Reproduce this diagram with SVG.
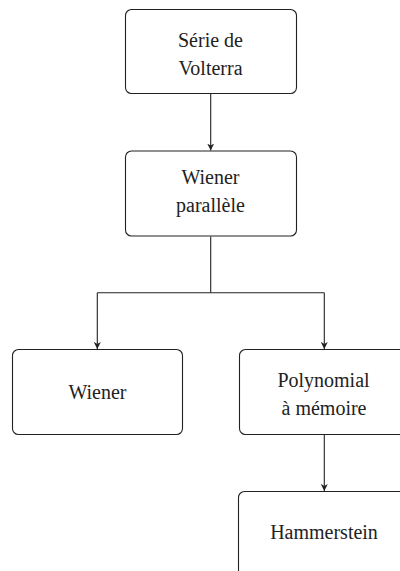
<svg xmlns="http://www.w3.org/2000/svg" width="400" height="571" viewBox="0 0 400 571">
<defs>
<style>
.box{fill:#fff;stroke:#222;stroke-width:1.1}
.lbl{font-family:'Liberation Serif','DejaVu Serif','Times New Roman',Times,serif;font-size:20px;fill:#222;text-anchor:middle}
.con{fill:none;stroke:#222;stroke-width:1.1}
</style>
<marker id="ah" viewBox="0 0 10 10" refX="10" refY="5" markerWidth="7" markerHeight="7" markerUnits="userSpaceOnUse" orient="auto">
<path d="M0,0 L10,5 L0,10 L3,5 Z" fill="#222"/>
</marker>
</defs>
<g id="connectors">
<path class="con" d="M210.7,93.5 V150.5" marker-end="url(#ah)"/>
<path class="con" d="M210.7,236.5 V292.7"/>
<path class="con" d="M97.3,292.7 H324.3"/>
<path class="con" d="M97.3,292.7 V349" marker-end="url(#ah)"/>
<path class="con" d="M324.3,292.7 V349" marker-end="url(#ah)"/>
<path class="con" d="M324.3,434.5 V491" marker-end="url(#ah)"/>
</g>
<g id="volterra">
<rect class="box" x="125.5" y="9.5" width="171" height="84" rx="6"/>
<text class="lbl" x="210.5" y="46.5">Série de</text>
<text class="lbl" x="210.5" y="75">Volterra</text>
</g>
<g id="wiener-parallele">
<rect class="box" x="125.5" y="151" width="171" height="85" rx="6"/>
<text class="lbl" x="210.5" y="183.5">Wiener</text>
<text class="lbl" x="210.5" y="212">parallèle</text>
</g>
<g id="wiener">
<rect class="box" x="12.5" y="349.5" width="170" height="85" rx="6"/>
<text class="lbl" x="97.5" y="399">Wiener</text>
</g>
<g id="polynomial">
<rect class="box" x="239.5" y="349.5" width="170" height="85" rx="6"/>
<text class="lbl" x="323.5" y="386.5">Polynomial</text>
<text class="lbl" x="324" y="414.5">à mémoire</text>
</g>
<g id="hammerstein">
<rect class="box" x="238.5" y="491.5" width="170" height="85" rx="6"/>
<text class="lbl" x="324" y="538.5">Hammerstein</text>
</g>
</svg>
